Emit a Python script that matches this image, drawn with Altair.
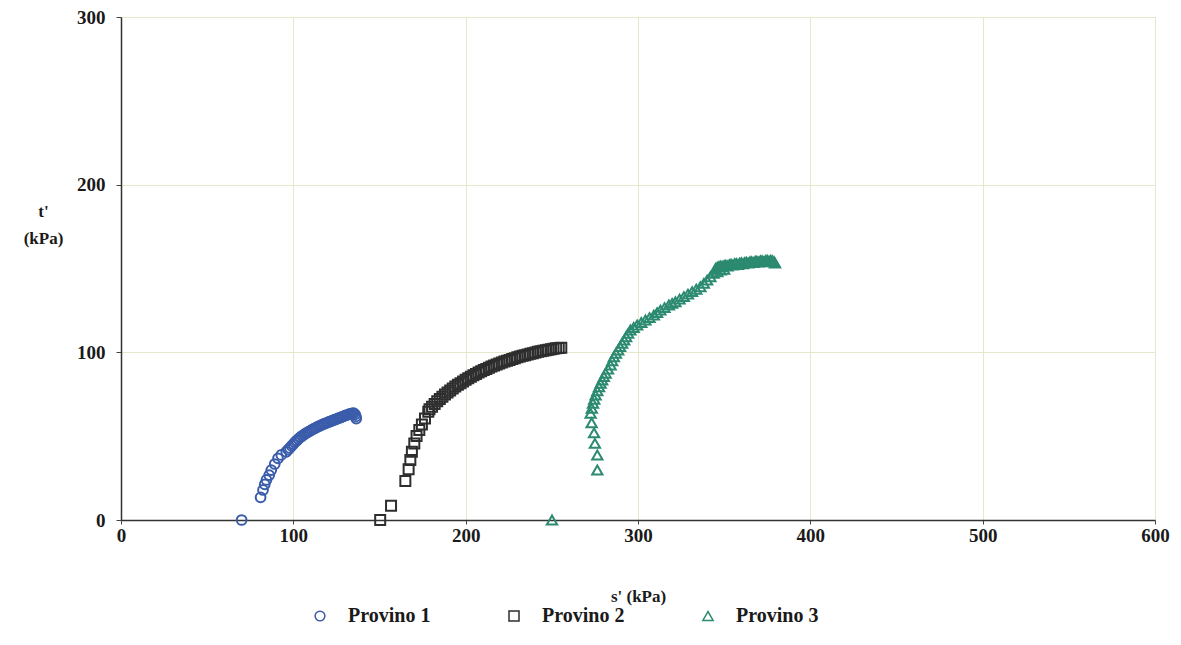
import altair as alt
import pandas as pd

# Provino 1 (circles)
s1 = [70, 81, 82.4, 83.4, 84.4, 86, 87.2, 89.2, 91.1, 93, 95.9,
      97, 98, 99, 100, 101, 102, 103, 104, 105, 106, 107, 108, 109, 110, 111, 112,
      113, 114, 115, 116, 117, 118, 119, 120, 121, 122, 123, 124, 125, 126, 127, 128,
      129, 130, 131, 132, 133, 134, 135, 135.8, 136.3, 136.5]
t1 = [0, 13.5, 17.9, 21.3, 23.9, 26.8, 29.8, 33.4, 36.8, 38.8, 40.7,
      42, 43, 44.2, 45.3, 46.4, 47.4, 48.4, 49.3, 50.1, 50.8, 51.5, 52.1, 52.7, 53.3, 53.9, 54.5,
      55, 55.5, 56, 56.5, 57, 57.4, 57.8, 58.2, 58.6, 59, 59.4, 59.8, 60.2, 60.6, 61, 61.4,
      61.8, 62.2, 62.6, 63, 63.3, 63.6, 63.8, 63, 61.8, 60.5]

# Provino 2 (squares)
s2 = [150.4, 156.7, 165, 166.9, 167.9, 168.8, 170.2, 171.5, 173.1, 174.6, 176.4, 178.3,
      179, 180.5, 182, 183.5, 185, 186.5, 188, 189.5, 191, 192.5, 194, 195.5, 197, 198.5,
      200, 201.5, 203, 204.5, 206, 207.5, 209, 210.5, 212, 213.5, 215, 216.5, 218, 219.5,
      221, 222.5, 224, 225.5, 227, 228.5, 230, 231.5, 233, 234.5, 236, 237.5, 239, 240.5,
      242, 243.5, 245, 246.5, 248, 249.5, 251, 252.5, 254, 255.5]
t2 = [0, 8.5, 23.3, 30.2, 35.8, 40.7, 45.7, 50.1, 53.7, 57, 60.6, 64.6,
      66, 67.6, 69.2, 70.8, 72.2, 73.5, 74.8, 76, 77.2, 78.5, 79.6, 80.6, 81.6, 82.6,
      83.6, 84.6, 85.5, 86.3, 87.1, 87.9, 88.7, 89.4, 90.1, 90.8, 91.5, 92.1, 92.7, 93.3,
      93.9, 94.5, 95, 95.5, 96, 96.5, 97, 97.5, 97.9, 98.3, 98.7, 99.1, 99.5, 99.9,
      100.3, 100.6, 100.9, 101.2, 101.5, 101.8, 102.1, 102.4, 102.6, 102.8]

# Provino 3 (triangles)
s3 = [250.1, 276.4, 276.4, 275, 274.5, 273.1, 272.5, 273.2, 273.9, 274.6, 275.4, 276.4, 277.4,
      278.3, 279.2, 280.2, 281.2, 282.6, 284.1, 285, 286, 287.2, 288.5, 289.6, 290.8, 292,
      293.1, 294.3, 295.6, 297.5, 299.5, 301.9, 304.3, 306.7, 309.2, 311.1, 313, 315.4,
      317.9, 319.8, 321.7, 324.1, 326.6, 329, 331.4, 333.8, 336.2, 338.2, 340.1, 342, 343.9,
      345, 346, 346, 347, 348, 348, 349, 350, 350, 351, 352, 353, 354, 355, 356, 357, 358,
      359, 360, 361, 362, 363, 364, 365, 366, 367, 368, 369, 370, 371, 372, 373, 374, 375,
      376, 377, 378, 379, 379.5]
t3 = [0, 29.8, 38.8, 45.7, 52, 58, 63.6, 66.6, 69.6, 72, 74.5, 77, 79.5,
      81.5, 83.5, 85.5, 87.5, 90, 92.4, 94.9, 97.4, 99.4, 101.4, 103.4, 105.4, 107.3,
      109.3, 111.3, 113.3, 114.8, 116.3, 117.8, 119.3, 120.7, 122.2, 123.7, 125.2, 126.7,
      128.2, 129.2, 130.2, 131.7, 133.2, 134.7, 136.2, 137.6, 139.1, 141.1, 143.1, 145.1, 147.1,
      150, 150.8, 148, 151.3, 151.6, 149, 151.2, 151.8, 149.5, 152, 151.5, 152.3, 152.6, 152,
      152.8, 153, 152.4, 153.2, 153.4, 152.8, 153.6, 153.8, 153.2, 154, 154.1, 153.5, 154.3,
      154.4, 153.8, 154.6, 154.7, 154, 154.8, 155, 154.3, 155, 154.6, 154, 153.2]

names = ["Provino 1", "Provino 2", "Provino 3"]
colors = ["#3a5cab", "#2e2e2e", "#2b8a70"]
shapes = ["circle", "square", "triangle-up"]
sizes = [95, 105, 110]

rows = []
for name, ss, tt in zip(names, [s1, s2, s3], [t1, t2, t3]):
    for a, b in zip(ss, tt):
        rows.append({"s": a, "t": b, "provino": name})
df = pd.DataFrame(rows)

FONT = "Liberation Serif"

chart = alt.Chart(df).mark_point(filled=False, strokeWidth=2, opacity=1).encode(
    x=alt.X("s:Q", title="s' (kPa)",
            scale=alt.Scale(domain=[0, 600], nice=False),
            axis=alt.Axis(values=[0, 100, 200, 300, 400, 500, 600], tickSize=4,
                          labelPadding=2, titlePadding=43, labelFlush=False)),
    y=alt.Y("t:Q", title=["t'", "(kPa)"],
            scale=alt.Scale(domain=[0, 300], nice=False),
            axis=alt.Axis(values=[0, 100, 200, 300], tickSize=5, labelPadding=11,
                          titleAngle=0, titleX=-78, titleY=186, titleAlign="center",
                          titleBaseline="top", titleLineHeight=27)),
    color=alt.Color("provino:N", title=None,
                    scale=alt.Scale(domain=names, range=colors),
                    legend=alt.Legend(orient="none", legendX=189, legendY=589,
                                      direction="horizontal", symbolSize=50,
                                      labelOffset=18, columnPadding=73,
                                      labelFontSize=20, labelFont=FONT,
                                      labelFontWeight="bold", labelColor="#1a1a1a",
                                      symbolStrokeWidth=1.5)),
    shape=alt.Shape("provino:N", title=None,
                    scale=alt.Scale(domain=names, range=shapes)),
    size=alt.Size("provino:N", legend=None,
                  scale=alt.Scale(domain=names, range=sizes)),
).properties(
    width=1034, height=503,
    autosize=alt.AutoSizeParams(type="none"),
    padding={"left": 113, "top": 9, "right": 17, "bottom": 110},
).configure_view(
    stroke="#c8c8c0", strokeWidth=1
).configure_axis(
    labelFont=FONT, labelFontSize=19, labelFontWeight="bold", labelColor="#1a1a1a",
    titleFont=FONT, titleFontSize=17, titleFontWeight="bold", titleColor="#1a1a1a",
    domainColor="#333", domainWidth=1.5, tickColor="#444",
    gridColor="#e6e8cc", gridWidth=1,
)

chart.save("out.html", embed_options={"renderer": "svg", "actions": False})
